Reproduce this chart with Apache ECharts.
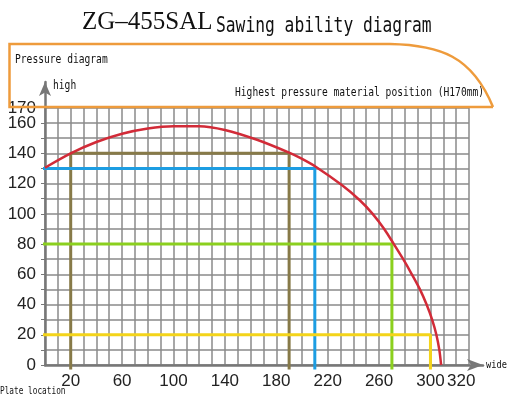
<!DOCTYPE html>
<html>
<head>
<meta charset="utf-8">
<script src="https://cdn.jsdelivr.net/npm/echarts@6/dist/echarts.min.js"></script>
<style>
  html, body { margin: 0; background: #fff; }
  #chart { width: 509px; height: 397px; }
</style>
</head>
<body>
<div id="chart"></div>
<script>
// sawing envelope: plate width (x) -> max height (y)
const curveX = [0, 20, 40, 60, 80, 100, 120, 140, 165, 190, 199, 211, 231, 245, 255, 264, 271.5, 278.8, 285.5, 291.8, 297, 301.3, 304.6, 306.9, 308.3]
const curveY = [130.5, 140, 147.5, 153, 156.5, 158, 158, 155.5, 149, 140.5, 136.8, 131, 119, 109, 100, 90, 80, 70, 60, 50, 40, 30, 20, 10, 0]

// rectangular sections (left end, right end, height)
const rectLeft = [20, -2, -4, -4]
const rectRight = [190, 210, 270, 300]
const rectHeight = [140, 130, 80, 20]
const rectColors = ['#877a48', '#1d9de2', '#8bd01e', '#f4d41a']

const xLabels = [20, 60, 100, 140, 180, 220, 260, 300, 320]
const yLabels = [0, 20, 40, 60, 80, 100, 120, 140, 160]
const yTop = 170

const chart = echarts.init(document.getElementById('chart'))

const labelFont = "'Liberation Sans', sans-serif"
const monoFont = "'DejaVu Sans Mono', monospace"
const frameColor = '#ee9b3c'
const axisGray = '#777'

const rectSeries = rectRight.map((r, i) => {
  const pts = []
  if (rectLeft[i] > 0) pts.push([rectLeft[i], -3])
  pts.push([rectLeft[i], rectHeight[i]], [r, rectHeight[i]], [r, -3])
  return {
    type: 'line',
    data: pts,
    symbol: 'none',
    clip: false,
    lineStyle: { color: rectColors[i], width: 3 },
    z: 3 + i
  }
})

function monoText(text, x, y, size, scale) {
  return {
    type: 'text',
    x: x, y: y,
    scaleX: scale,
    style: { text: text, font: size + 'px ' + monoFont, fill: '#111', textVerticalAlign: 'bottom' }
  }
}

const yLabelStyle = { margin: 9, fontSize: 17, color: '#222', fontFamily: labelFont, hideOverlap: false }

chart.setOption({
  backgroundColor: '#fff',
  animation: false,
  grid: [
    { left: 45, right: 40, top: 108, bottom: 32 },
    { left: 45, right: 26, top: 82, bottom: 32 }
  ],
  xAxis: [{
    type: 'value', min: 0, max: 330, interval: 10,
    axisLine: { show: false },
    axisTick: { show: false },
    splitLine: { lineStyle: { color: '#8a8a8a', width: 1.5 } },
    axisLabel: {
      margin: 8, fontSize: 17, color: '#222', fontFamily: labelFont, hideOverlap: false,
      formatter: v => !xLabels.includes(v) ? '' : (v === 320 ? '{r|320}' : String(v)),
      rich: { r: { fontSize: 17, color: '#222', fontFamily: labelFont, padding: [0, 0, 0, 10] } }
    }
  }, {
    gridIndex: 1, type: 'value', min: 0, max: 1, position: 'bottom',
    axisLine: { show: true, onZero: false, symbol: ['none', 'arrow'], symbolSize: [9, 16], lineStyle: { color: axisGray, width: 2.5 } },
    axisTick: { show: false }, axisLabel: { show: false }, splitLine: { show: false }
  }],
  yAxis: [{
    type: 'value', min: 0, max: yTop, interval: 10,
    axisLine: { show: false },
    axisTick: { show: true, length: 4, lineStyle: { color: axisGray } },
    splitLine: { lineStyle: { color: '#8a8a8a', width: 1.5 } },
    axisLabel: Object.assign({
      showMaxLabel: false, showMinLabel: true,
      formatter: v => yLabels.includes(v) ? String(v) : ''
    }, yLabelStyle)
  }, {
    gridIndex: 1, type: 'value', min: 0, max: 1, position: 'left',
    axisLine: { show: true, onZero: false, symbol: ['none', 'arrow'], symbolSize: [9, 14], lineStyle: { color: axisGray, width: 2.5 } },
    axisTick: { show: false }, axisLabel: { show: false }, splitLine: { show: false }
  }, {
    // separate axis only for the top "170" label so it isn't dropped as overlapping
    type: 'value', min: 0, max: yTop, interval: yTop, position: 'left',
    axisLine: { show: false }, axisTick: { show: false }, splitLine: { show: false },
    axisLabel: Object.assign({
      showMaxLabel: true,
      formatter: v => v === yTop ? String(v) : ''
    }, yLabelStyle)
  }],
  series: rectSeries.concat([{
    type: 'line',
    data: curveX.map((x, i) => [x, curveY[i]]),
    smooth: 0.3,
    symbol: 'none',
    clip: false,
    lineStyle: { color: '#d22b38', width: 2.5 },
    z: 10
  }, {
    type: 'line', xAxisIndex: 1, yAxisIndex: 1, data: []
  }, {
    type: 'line', yAxisIndex: 2, data: []
  }]),
  graphic: [
    {
      type: 'polyline',
      shape: { points: [[390, 44], [9.5, 44], [9.5, 107], [493, 107]] },
      style: { stroke: frameColor, lineWidth: 2.5, fill: null },
      z: 20
    },
    {
      type: 'bezierCurve',
      shape: { x1: 390, y1: 44, cpx1: 440, cpy1: 45, cpx2: 472, cpy2: 56, x2: 493, y2: 107 },
      style: { stroke: frameColor, lineWidth: 2.5, fill: null },
      z: 20
    },
    {
      type: 'text', x: 82, y: 35,
      style: { text: 'ZG\u2013455SAL', font: '25px "Liberation Serif", serif', fill: '#111', textVerticalAlign: 'bottom' }
    },
    {
      type: 'text', x: 216, y: 37, scaleX: 0.775,
      style: { text: 'Sawing ability diagram', font: '21px ' + monoFont, fill: '#111', textVerticalAlign: 'bottom' }
    },
    monoText('Pressure diagram', 15, 66, 13, 0.74),
    monoText('high', 53, 92, 13, 0.74),
    monoText('Highest pressure material position (H170mm)', 235, 99, 13, 0.74),
    monoText('wide', 486, 371, 11, 0.79),
    monoText('Plate location', 0, 397, 10.5, 0.74)
  ]
})
</script>
</body>
</html>
